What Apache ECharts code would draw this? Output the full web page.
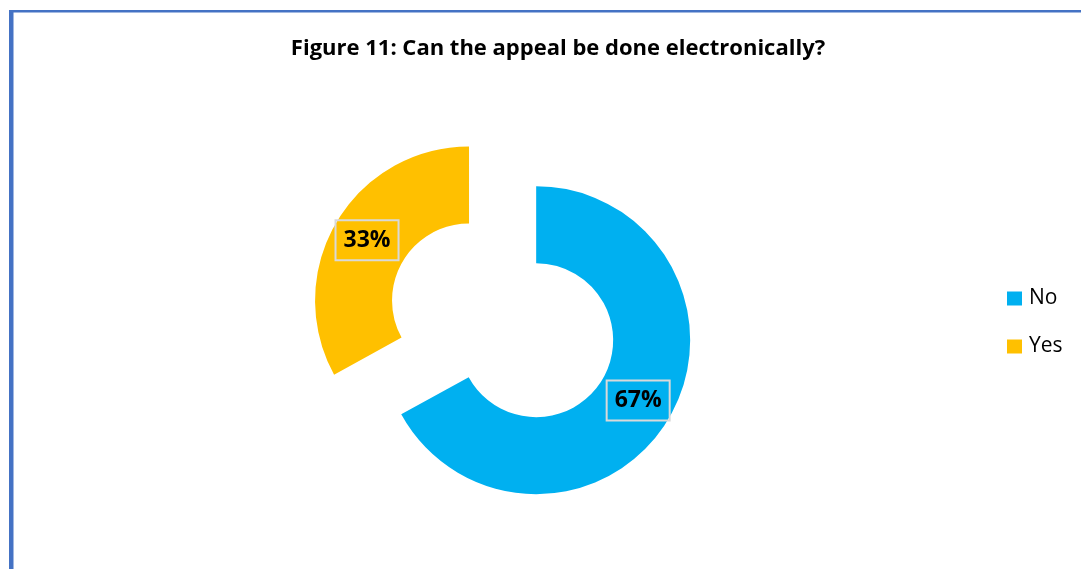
<!DOCTYPE html>
<html>
<head>
<meta charset="utf-8">
<script src="https://cdn.jsdelivr.net/npm/echarts@6/dist/echarts.min.js"></script>
<style>
  html, body { margin: 0; padding: 0; background: #ffffff; }
  #chart { width: 1081px; height: 569px; }
</style>
</head>
<body>
<div id="chart"></div>
<script>
// Survey answers for the electronic appeal question
const categories = ['No', 'Yes'];
const shares = [67, 33];
const colors = ['#00B0F0', '#FFC000'];
const titleText = 'Figure 11: Can the appeal be done electronically?';

const chart = echarts.init(document.getElementById('chart'));

const pieData = categories.map((name, i) => ({
  name: name,
  value: shares[i],
  selected: true,
  itemStyle: { color: colors[i] }
}));

chart.setOption({
  animation: false,
  title: {
    text: titleText,
    left: 553,
    textAlign: 'center',
    top: 33,
    textStyle: {
      fontFamily: 'Open Sans',
      fontWeight: 'bold',
      fontSize: 22,
      color: '#000000'
    }
  },
  legend: {
    orient: 'vertical',
    left: 1007,
    top: 288,
    padding: 0,
    itemWidth: 15,
    itemHeight: 14,
    itemGap: 27,
    icon: 'rect',
    selectedMode: false,
    textStyle: {
      fontFamily: 'Open Sans',
      fontSize: 21,
      color: '#000000',
      padding: [0, 0, 0, 2]
    },
    data: categories
  },
  graphic: [
    { type: 'rect', shape: { x: 9, y: 10, width: 1072, height: 2.5 }, style: { fill: '#4472C4' }, silent: true },
    { type: 'rect', shape: { x: 9, y: 10, width: 4.5, height: 559 }, style: { fill: '#4472C4' }, silent: true }
  ],
  series: [{
    type: 'pie',
    center: [502.6, 320.3],
    radius: [77, 154],
    startAngle: 90,
    clockwise: true,
    selectedMode: 'multiple',
    selectedOffset: 39,
    emphasis: { disabled: true },
    itemStyle: { borderWidth: 0 },
    label: {
      show: true,
      position: 'inside',
      formatter: p => p.value + '%',
      fontFamily: 'Open Sans',
      fontWeight: 'bold',
      fontSize: 23,
      color: '#000000',
      borderColor: '#D9D9D9',
      borderWidth: 2,
      padding: [10, 8, 7, 8]
    },
    labelLine: { show: false },
    data: pieData
  }]
});
</script>
</body>
</html>
